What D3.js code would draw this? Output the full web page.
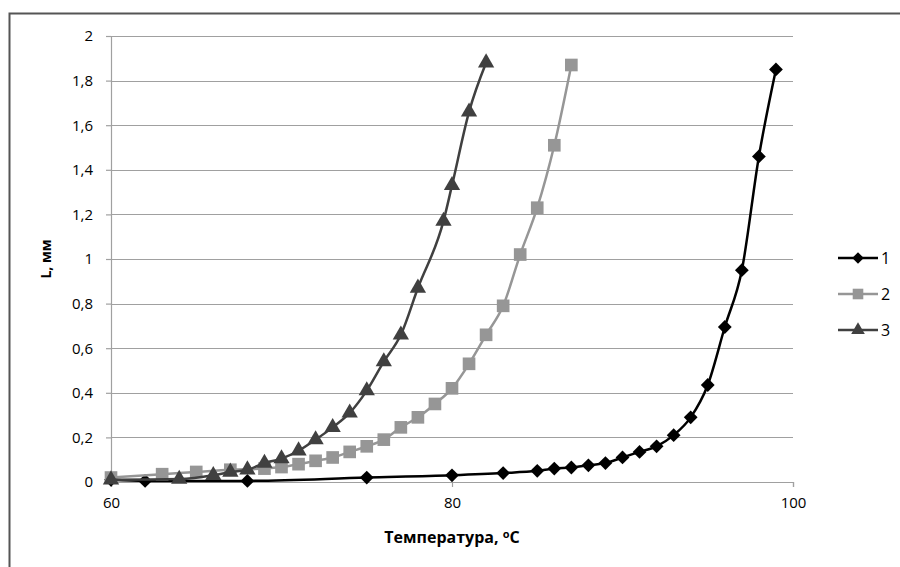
<!DOCTYPE html>
<html>

<head>
    <meta charset="utf-8">
    <title>L vs temperature</title>
    <script src="https://d3js.org/d3.v7.min.js"></script>
    <style>
        body { margin: 0; background: #fff; }
        text { font-family: "Open Sans", Lato, sans-serif; fill: #000; }
    </style>
</head>

<body>
    <script>
        // values
        const temp1 = [60, 62, 68, 75, 80, 83, 85, 86, 87, 88, 89, 90, 91, 92, 93, 94, 95, 96, 97, 98, 99];
        const len1 = [0.01, 0.005, 0.005, 0.02, 0.03, 0.04, 0.05, 0.06, 0.065, 0.075, 0.085, 0.11, 0.135, 0.16, 0.21, 0.29, 0.435, 0.695, 0.95, 1.46, 1.85];

        const temp2 = [60, 63, 65, 67, 69, 70, 71, 72, 73, 74, 75, 76, 77, 78, 79, 80, 81, 82, 83, 84, 85, 86, 87];
        const len2 = [0.02, 0.035, 0.045, 0.055, 0.06, 0.067, 0.08, 0.095, 0.11, 0.135, 0.16, 0.19, 0.245, 0.29, 0.35, 0.42, 0.53, 0.66, 0.79, 1.02, 1.23, 1.51, 1.87];

        const temp3 = [60, 64, 66, 67, 68, 69, 70, 71, 72, 73, 74, 75, 76, 77, 78, 79.5, 80, 81, 82];
        const len3 = [0.01, 0.013, 0.03, 0.045, 0.055, 0.085, 0.105, 0.14, 0.19, 0.245, 0.31, 0.41, 0.54, 0.66, 0.87, 1.17, 1.33, 1.66, 1.88];

        const seriesNames = ["1", "2", "3"];
        const xTicks = [60, 80, 100];
        const yTicks = [0, 0.2, 0.4, 0.6, 0.8, 1, 1.2, 1.4, 1.6, 1.8, 2];

        const series = [
            { name: seriesNames[0], t: temp1, v: len1, color: "#000000", shape: d3.symbolSquare, rot: 45, size: 95 },
            { name: seriesNames[1], t: temp2, v: len2, color: "#969696", shape: d3.symbolSquare, rot: 0, size: 160 },
            { name: seriesNames[2], t: temp3, v: len3, color: "#404040", shape: d3.symbolTriangle, rot: 0, size: 115 }
        ];

        const width = 900, height = 567;
        const margin = { left: 111, right: 107, top: 36, bottom: 85 };

        const svg = d3.select("body").append("svg")
            .attr("width", width)
            .attr("height", height);

        // chart frame (only top and left edges fall inside the picture)
        svg.append("rect")
            .attr("x", 9.5).attr("y", 13.5)
            .attr("width", 900).attr("height", 600)
            .attr("fill", "none")
            .attr("stroke", "#555")
            .attr("stroke-width", 2);

        const x = d3.scaleLinear().domain([60, 100]).range([margin.left, width - margin.right]);
        const y = d3.scaleLinear().domain([0, 2]).range([height - margin.bottom, margin.top]);

        // horizontal grid
        svg.append("g")
            .selectAll("line")
            .data(yTicks.filter(d => d > 0))
            .enter().append("line")
            .attr("x1", x(60)).attr("x2", x(100))
            .attr("y1", d => Math.round(y(d)) + 0.5)
            .attr("y2", d => Math.round(y(d)) + 0.5)
            .style("stroke", "#a0a0a0")
            .style("stroke-width", 1.2);

        const fmt = d => String(d).replace(".", ",");

        const yAxis = svg.append("g")
            .attr("transform", `translate(${x(60)},0)`)
            .call(d3.axisLeft(y).tickValues(yTicks).tickFormat(fmt).tickSize(5).tickPadding(13));

        const xAxis = svg.append("g")
            .attr("transform", `translate(0,${y(0)})`)
            .call(d3.axisBottom(x).tickValues(xTicks).tickSize(5).tickPadding(10));

        [xAxis, yAxis].forEach(ax => {
            ax.select(".domain").style("stroke", "#a0a0a0").style("stroke-width", 1.2);
            ax.selectAll(".tick line").style("stroke", "#a0a0a0").style("stroke-width", 1.2);
            ax.selectAll(".tick text")
                .style("font-family", "'Open Sans', Lato, sans-serif")
                .style("font-size", "15px")
                .style("fill", "#000");
        });

        // axis titles
        const xt = svg.append("text")
            .attr("x", (x(60) + x(100)) / 2)
            .attr("y", 543)
            .attr("text-anchor", "middle")
            .style("font-size", "16px")
            .style("font-weight", "bold");
        xt.append("tspan").text("Температура, ");
        xt.append("tspan").attr("dy", -5).style("font-size", "11px").text("o");
        xt.append("tspan").attr("dy", 5).text("C");

        svg.append("text")
            .attr("transform", `translate(51,${(y(0) + y(2)) / 2}) rotate(-90)`)
            .attr("text-anchor", "middle")
            .style("font-size", "14px")
            .style("font-weight", "bold")
            .text("L, мм");

        const line = d3.line()
            .x(d => x(d[0]))
            .y(d => y(d[1]))
            .curve(d3.curveMonotoneX);

        series.forEach(s => {
            const pts = s.t.map((t, i) => [t, s.v[i]]);
            const g = svg.append("g");
            g.append("path")
                .datum(pts)
                .attr("d", line)
                .attr("fill", "none")
                .attr("stroke", s.color)
                .attr("stroke-width", 2.5);
            g.selectAll("path.mark")
                .data(pts)
                .enter().append("path")
                .attr("class", "mark")
                .attr("transform", d => `translate(${x(d[0])},${y(d[1])}) rotate(${s.rot})`)
                .attr("d", d3.symbol().type(s.shape).size(s.size))
                .attr("fill", s.color);
        });

        // legend
        const legend = svg.append("g")
            .selectAll("g")
            .data(series)
            .enter().append("g")
            .attr("transform", (d, i) => `translate(838,${258 + i * 36})`);

        legend.append("line")
            .attr("x1", 0).attr("x2", 40)
            .attr("stroke", d => d.color)
            .attr("stroke-width", 2.5);
        legend.append("path")
            .attr("transform", d => `translate(20,0) rotate(${d.rot})`)
            .attr("d", d => d3.symbol().type(d.shape).size(d.size * 0.7)())
            .attr("fill", d => d.color);
        legend.append("text")
            .attr("x", 43)
            .attr("y", 6)
            .style("font-size", "16px")
            .text(d => d.name);
    </script>
</body>

</html>
